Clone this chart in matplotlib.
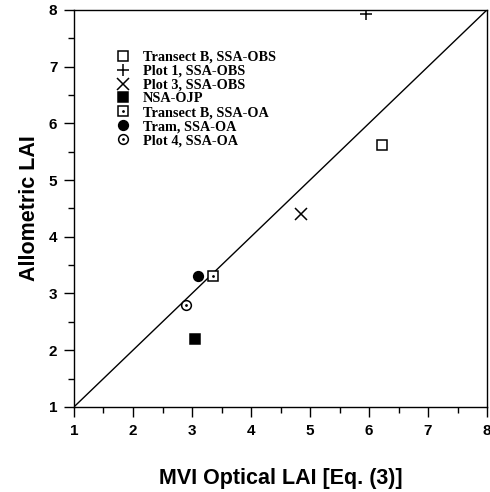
import matplotlib.pyplot as plt
from matplotlib.ticker import MultipleLocator
from matplotlib.lines import Line2D

# Optical (MVI) LAI vs allometric LAI, one point per site
sites = ['Transect B, SSA-OBS', 'Plot 1, SSA-OBS', 'Plot 3, SSA-OBS', 'NSA-OJP',
         'Transect B, SSA-OA', 'Tram, SSA-OA', 'Plot 4, SSA-OA']
optical_lai = [6.22, 5.95, 4.85, 3.05, 3.35, 3.1, 2.9]
allometric_lai = [5.61, 7.93, 4.4, 2.2, 3.3, 3.3, 2.8]
markers = ['s', '+', 'x', 's', 's', 'o', 'o']
filled = [False, False, False, True, False, True, False]
dotted = [False, False, False, False, True, False, True]
one_to_one = [1, 8]

fig = plt.figure(figsize=(4.9, 4.92), dpi=100)
ax = fig.add_axes([0.151, 0.173, 0.843, 0.807])

ax.plot(one_to_one, one_to_one, color='black', lw=1.0, zorder=1)

handles = []
for x, y, m, f, d in zip(optical_lai, allometric_lai, markers, filled, dotted):
    size = 8 if m in '+x' else 7
    h = Line2D([], [], ls='none', marker=m, markersize=size,
               markerfacecolor='black' if f else 'white',
               markeredgecolor='black', markeredgewidth=1.1)
    ax.plot([x], [y], ls='none', marker=m, markersize=size,
            markerfacecolor='black' if f else 'white',
            markeredgecolor='black', markeredgewidth=1.1, zorder=3)
    if d:
        dot = Line2D([], [], ls='none', marker='.', markersize=2, color='black')
        ax.plot([x], [y], ls='none', marker='.', markersize=2, color='black', zorder=4)
        handles.append((h, dot))
    else:
        handles.append(h)

ax.legend(handles, sites, loc='upper left', bbox_to_anchor=(0.078, 0.922),
          frameon=False, handlelength=1.0, handletextpad=0.85,
          labelspacing=0.06, borderpad=0.2,
          prop={'family': 'Liberation Serif', 'weight': 'bold', 'size': 10.3})

ax.set_xlim(1, 8)
ax.set_ylim(1, 8)
ax.xaxis.set_major_locator(MultipleLocator(1))
ax.yaxis.set_major_locator(MultipleLocator(1))
ax.xaxis.set_minor_locator(MultipleLocator(0.5))
ax.yaxis.set_minor_locator(MultipleLocator(0.5))
ax.tick_params(which='major', direction='out', length=7, width=1, pad=5)
ax.tick_params(which='minor', direction='out', length=4, width=1)
for lab in ax.get_xticklabels() + ax.get_yticklabels():
    lab.set_fontfamily('Liberation Sans')
    lab.set_fontweight('bold')
    lab.set_fontsize(11)
for sp in ax.spines.values():
    sp.set_linewidth(1)

ax.set_xlabel('MVI Optical LAI [Eq. (3)]', fontfamily='Liberation Sans',
              fontweight='bold', fontsize=15.5, labelpad=22)
ax.set_ylabel('Allometric LAI', fontfamily='Liberation Sans',
              fontweight='bold', fontsize=15.5, labelpad=6)

fig.savefig('out.png', dpi=100)
